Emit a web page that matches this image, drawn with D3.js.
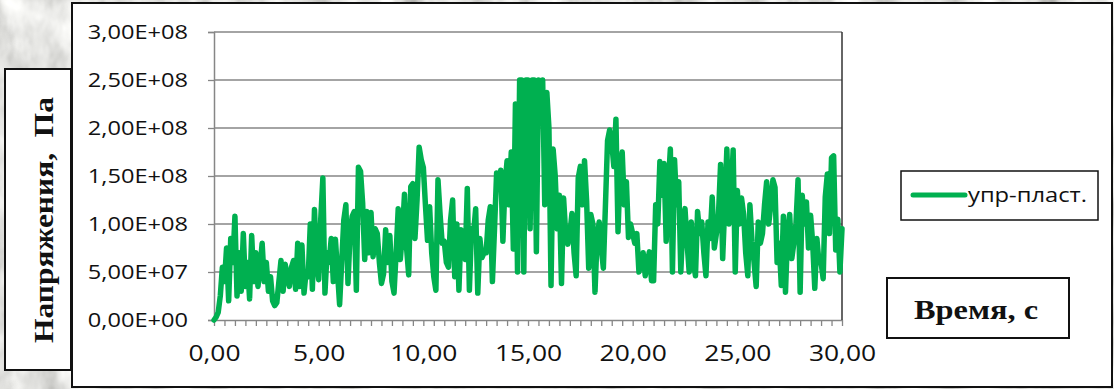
<!DOCTYPE html>
<html>
<head>
<meta charset="utf-8">
<script src="https://cdnjs.cloudflare.com/ajax/libs/d3/7.8.5/d3.min.js"></script>
<style>
  body { margin: 0; padding: 0; }
  svg { display: block; }
</style>
</head>
<body>
<div id="chart"></div>
<script>

// time step of the series, seconds
var timeStep = 0.1;

// stress, MPa, one value per 0.1 s (0 .. 30 s)
var stressMPa = [
  0, 3, 8, 25, 55, 40, 75, 20, 85, 60,
  108, 25, 70, 30, 90, 35, 60, 22, 88, 40,
  70, 35, 55, 80, 40, 60, 30, 45, 20, 15,
  18, 40, 62, 30, 58, 45, 35, 55, 62, 32,
  80, 35, 78, 28, 50, 45, 100, 32, 115, 60,
  42, 105, 148, 28, 70, 60, 85, 40, 84, 50,
  16, 60, 104, 120, 38, 90, 108, 113, 31, 159,
  155, 122, 63, 113, 70, 112, 66, 95, 90, 60,
  38, 48, 94, 60, 88, 40, 28, 70, 116, 63,
  90, 131, 75, 47, 139, 142, 85, 125, 180, 167,
  159, 120, 83, 118, 70, 45, 31, 146, 110, 80,
  82, 60, 55, 104, 125, 45, 100, 31, 94, 70,
  63, 137, 31, 95, 90, 116, 28, 85, 65, 70,
  70, 104, 118, 40, 95, 153, 140, 156, 82, 141,
  166, 120, 175, 74, 225, 50, 250, 250, 50, 250,
  250, 95, 250, 250, 71, 250, 235, 250, 120, 237,
  200, 36, 178, 150, 95, 130, 38, 127, 90, 79,
  90, 111, 70, 46, 148, 160, 120, 166, 124, 54,
  110, 100, 29, 85, 102, 75, 54, 120, 187, 198,
  185, 160, 209, 92, 155, 175, 120, 144, 86, 100,
  90, 80, 90, 50, 60, 70, 46, 60, 71, 41,
  41, 120, 100, 165, 130, 163, 82, 140, 178, 50,
  167, 120, 144, 50, 100, 116, 80, 50, 102, 60,
  46, 113, 90, 102, 70, 46, 102, 85, 128, 75,
  90, 110, 162, 64, 120, 178, 100, 130, 177, 50,
  135, 100, 127, 110, 70, 46, 120, 82, 60, 35,
  102, 80, 90, 120, 144, 100, 120, 146, 138, 60,
  80, 36, 108, 29, 90, 110, 64, 80, 100, 146,
  29, 130, 100, 123, 75, 109, 80, 33, 85, 60,
  60, 43, 128, 152, 90, 169, 171, 73, 105, 50,
  95
];

var yTicks = [0, 5e7, 1e8, 1.5e8, 2e8, 2.5e8, 3e8];
var xLabelTicks = [0, 5, 10, 15, 20, 25, 30];
var seriesName = "упр-пласт.";
var yTitle = "Напряжения,  Па";
var xTitle = "Время, с";

var data = stressMPa.map(function(v, i) {
  return { t: i * timeStep, p: v * 1e6 };
});

var W = 1114, H = 389;
var green = "#00b050", gridGray = "#868686";

var svg = d3.select("#chart").append("svg")
  .attr("width", W)
  .attr("height", H);

// stretch a text horizontally (the picture is a bit wide)
function widen(sel, k) {
  sel.each(function() {
    var w = this.getComputedTextLength();
    d3.select(this)
      .attr("textLength", w * k)
      .attr("lengthAdjust", "spacingAndGlyphs");
  });
}

// stone-like background
var defs = svg.append("defs");
var f = defs.append("filter").attr("id", "stone")
  .attr("x", 0).attr("y", 0).attr("width", "100%").attr("height", "100%");
f.append("feTurbulence")
  .attr("type", "fractalNoise")
  .attr("baseFrequency", "0.03 0.018")
  .attr("numOctaves", 4)
  .attr("seed", 7)
  .attr("result", "noise");
f.append("feColorMatrix")
  .attr("in", "noise")
  .attr("type", "matrix")
  .attr("values", "0.55 0.55 0.55 0 -0.06  0.55 0.55 0.55 0 -0.06  0.55 0.55 0.55 0 -0.08  0 0 0 0 1");

svg.append("rect")
  .attr("width", W).attr("height", H)
  .attr("fill", "#bdbdb9");
svg.append("rect")
  .attr("width", W).attr("height", H)
  .attr("filter", "url(#stone)");

// white chart panel
svg.append("rect")
  .attr("x", 72).attr("y", 3)
  .attr("width", 1040).attr("height", 384)
  .attr("fill", "#fff")
  .attr("stroke", "#111")
  .attr("stroke-width", 2);

var margin = {top: 32, left: 214, right: 842, bottom: 320};

var x = d3.scaleLinear()
  .domain([0, 30])
  .range([margin.left, margin.right]);

var y = d3.scaleLinear()
  .domain([0, 3e8])
  .range([margin.bottom, margin.top]);

function excelExp(v) {
  if (v === 0) return "0,00E+00";
  var e = Math.floor(Math.log10(v));
  var m = v / Math.pow(10, e);
  return m.toFixed(2).replace(".", ",") + "E+" + (e < 10 ? "0" + e : e);
}

// gridlines
svg.append("g")
  .selectAll("line")
  .data(yTicks.slice(1))
  .enter().append("line")
  .attr("x1", margin.left).attr("x2", margin.right)
  .attr("y1", function(d) { return y(d); })
  .attr("y2", function(d) { return y(d); })
  .attr("stroke", gridGray)
  .attr("stroke-width", 1.3);

// Y axis
var yAxis = svg.append("g")
  .attr("transform", "translate(" + margin.left + ",0)")
  .call(d3.axisLeft(y).tickValues(yTicks).tickSize(6).tickPadding(20).tickFormat(excelExp));
yAxis.select(".domain").attr("stroke", gridGray).attr("stroke-width", 1.5);
yAxis.selectAll(".tick line").attr("stroke", gridGray).attr("stroke-width", 1.3);
yAxis.selectAll(".tick text")
  .attr("font-family", "'Open Sans', sans-serif")
  .attr("font-size", 20)
  .attr("fill", "#111")
  .call(widen, 1.18);

// X axis: minor marks every 0.5 s, labels every 5 s
var minorTicks = d3.range(0, 30.001, 0.5);
var xAxis = svg.append("g")
  .attr("transform", "translate(0," + margin.bottom + ")")
  .call(d3.axisBottom(x).tickValues(minorTicks).tickSize(6).tickSizeOuter(0).tickFormat(""));
xAxis.select(".domain").attr("stroke", gridGray).attr("stroke-width", 1.5);
xAxis.selectAll(".tick line").attr("stroke", gridGray).attr("stroke-width", 1.3);

var xLab = svg.append("g")
  .attr("transform", "translate(0," + margin.bottom + ")")
  .call(d3.axisBottom(x).tickValues(xLabelTicks).tickSize(0).tickPadding(25)
    .tickFormat(function(d) { return d.toFixed(2).replace(".", ","); }));
xLab.select(".domain").remove();
xLab.selectAll(".tick text")
  .attr("font-family", "'Open Sans', sans-serif")
  .attr("font-size", 22)
  .attr("fill", "#111")
  .call(widen, 1.2);

// right border of plot area
svg.append("line")
  .attr("x1", margin.right).attr("x2", margin.right)
  .attr("y1", margin.top).attr("y2", margin.bottom)
  .attr("stroke", "#333")
  .attr("stroke-width", 1.5);

// the series
var line = d3.line()
  .x(function(d) { return x(d.t); })
  .y(function(d) { return y(d.p); });

svg.append("path")
  .datum(data)
  .attr("d", line)
  .attr("fill", "none")
  .attr("stroke", green)
  .attr("stroke-width", 5.5)
  .attr("stroke-linejoin", "round")
  .attr("stroke-linecap", "round");

// Y title box
svg.append("rect")
  .attr("x", 5).attr("y", 69)
  .attr("width", 66).attr("height", 301)
  .attr("fill", "#fff")
  .attr("stroke", "#111")
  .attr("stroke-width", 2);
svg.append("text")
  .attr("transform", "translate(53,220) rotate(-90)")
  .attr("text-anchor", "middle")
  .attr("font-family", "'Liberation Serif', 'Times New Roman', serif")
  .attr("font-weight", "bold")
  .attr("font-size", 27)
  .style("white-space", "pre")
  .attr("fill", "#111")
  .attr("textLength", 246)
  .attr("lengthAdjust", "spacingAndGlyphs")
  .text(yTitle);

// legend
svg.append("rect")
  .attr("x", 901).attr("y", 171)
  .attr("width", 197).attr("height", 49)
  .attr("fill", "#fff")
  .attr("stroke", "#111")
  .attr("stroke-width", 1.5);
svg.append("line")
  .attr("x1", 913).attr("x2", 965)
  .attr("y1", 195).attr("y2", 195)
  .attr("stroke", green)
  .attr("stroke-width", 5)
  .attr("stroke-linecap", "round");
svg.append("text")
  .attr("x", 968).attr("y", 202)
  .attr("font-family", "'Open Sans', sans-serif")
  .attr("font-size", 20)
  .attr("fill", "#111")
  .attr("textLength", 119)
  .attr("lengthAdjust", "spacingAndGlyphs")
  .text(seriesName);

// X title box
svg.append("rect")
  .attr("x", 887).attr("y", 278)
  .attr("width", 182).attr("height", 60)
  .attr("fill", "#fff")
  .attr("stroke", "#111")
  .attr("stroke-width", 2);
svg.append("text")
  .attr("x", 976).attr("y", 319)
  .attr("text-anchor", "middle")
  .attr("font-family", "'Liberation Serif', 'Times New Roman', serif")
  .attr("font-weight", "bold")
  .attr("font-size", 27)
  .attr("fill", "#111")
  .attr("textLength", 124)
  .attr("lengthAdjust", "spacingAndGlyphs")
  .text(xTitle);

</script>
</body>
</html>
